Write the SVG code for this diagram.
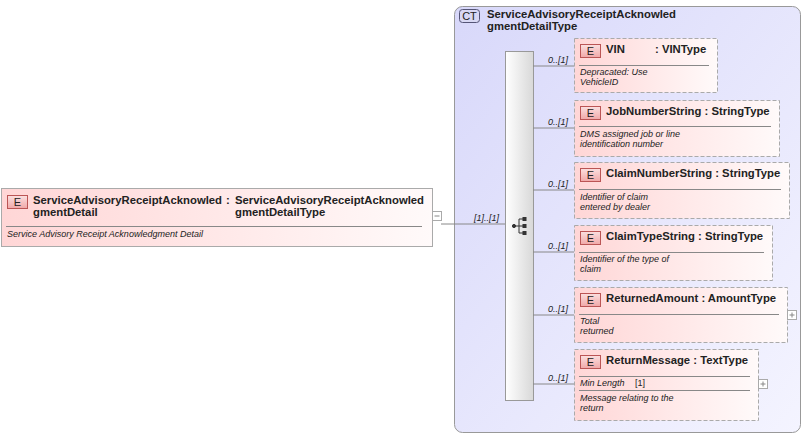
<svg xmlns="http://www.w3.org/2000/svg" width="804" height="435" viewBox="0 0 804 435">
<defs>
<linearGradient id="eg" x1="0" y1="0" x2="1" y2="0"><stop offset="0" stop-color="#ffd6d6"/><stop offset="1" stop-color="#fffafa"/></linearGradient>
<linearGradient id="cg" x1="0" y1="0" x2="1" y2="1"><stop offset="0" stop-color="#d8d8fa"/><stop offset="1" stop-color="#f4f4ff"/></linearGradient>
<linearGradient id="sg" x1="0" y1="0" x2="1" y2="0"><stop offset="0" stop-color="#ffffff"/><stop offset="1" stop-color="#d8d8d8"/></linearGradient>
<linearGradient id="bg" x1="0" y1="0" x2="0" y2="1"><stop offset="0" stop-color="#fbe0e0"/><stop offset="1" stop-color="#f0a8a8"/></linearGradient>
</defs>
<style>
text{font-family:"Liberation Sans",Arial,sans-serif;fill:#222}
.n{font-size:11.3px;font-weight:bold}
.d{font-size:9px;font-style:italic}
.m{font-size:9px;font-style:italic}
.b{font-size:11px;text-anchor:middle}
.el{fill:url(#eg);stroke:#aaa;stroke-dasharray:4,2}
.sep{stroke:#888;stroke-width:1}
.badge{fill:url(#bg);stroke:#b55}
.ln{stroke:#888;fill:none}
.pm{fill:#fff;stroke:#aaa}
</style>
<g id="ct">
<rect x="454.5" y="6.5" width="346" height="426" rx="8" fill="url(#cg)" stroke="#999"/>
<rect x="459.5" y="9.5" width="20" height="13" rx="3" fill="#d8d8f4" stroke="#557"/>
<text x="469.5" y="20" class="b">CT</text>
<text x="487" y="18" class="n">ServiceAdvisoryReceiptAcknowled</text>
<text x="487" y="30" class="n">gmentDetailType</text>
</g>
<g id="seq">
<rect x="505.5" y="51.5" width="28" height="349" fill="url(#sg)" stroke="#999"/>
<g stroke="#333" fill="#333">
<circle cx="514" cy="226" r="1.6"/><line x1="514" y1="226" x2="519" y2="226"/>
<line x1="519" y1="219" x2="519" y2="233"/><line x1="519" y1="219" x2="523" y2="219"/><line x1="519" y1="226" x2="523" y2="226"/><line x1="519" y1="233" x2="523" y2="233"/>
<rect x="523" y="217.5" width="3" height="3"/><rect x="523" y="224.5" width="3" height="3"/><rect x="523" y="231.5" width="3" height="3"/>
</g>
</g>
<g id="connectors">
<path class="ln" d="M441 224H505M533 66H574M533 128H574M533 190H574M533 252H574M533 315H574M533 384H574"/>
<text x="474" y="221" class="m">[1]..[1]</text>
<text x="548" y="63" class="m">0..[1]</text>
<text x="548" y="125" class="m">0..[1]</text>
<text x="548" y="187" class="m">0..[1]</text>
<text x="548" y="249" class="m">0..[1]</text>
<text x="548" y="312" class="m">0..[1]</text>
<text x="548" y="381" class="m">0..[1]</text>
</g>
<g id="root">
<rect x="1.5" y="188.5" width="431" height="58" fill="url(#eg)" stroke="#aaa"/>
<rect x="7.5" y="195.5" width="20" height="13" class="badge"/><text x="17.5" y="206" class="b">E</text>
<text x="33" y="204" class="n">ServiceAdvisoryReceiptAcknowled</text>
<text x="33" y="216" class="n">gmentDetail</text>
<text x="226" y="204" class="n">:</text>
<text x="235" y="204" class="n">ServiceAdvisoryReceiptAcknowled</text>
<text x="235" y="216" class="n">gmentDetailType</text>
<line x1="6" y1="226.5" x2="422" y2="226.5" class="sep"/>
<text x="7" y="237" class="d">Service Advisory Receipt Acknowledgment Detail</text>
<rect x="432.5" y="211.5" width="9" height="9" class="pm"/><line x1="434.5" y1="216" x2="439.5" y2="216" stroke="#888"/>
</g>
<g id="vin">
<rect x="574.5" y="38.5" width="143" height="54" class="el"/>
<rect x="580.5" y="44.5" width="20" height="13" class="badge"/><text x="590.5" y="55" class="b">E</text>
<text x="606" y="53" class="n">VIN</text><text x="655" y="53" class="n">: VINType</text>
<line x1="579" y1="65.5" x2="709" y2="65.5" class="sep"/>
<text x="580" y="75" class="d">Depracated: Use</text><text x="580" y="85" class="d">VehicleID</text>
</g>
<g id="job">
<rect x="574.5" y="100.5" width="205" height="56" class="el"/>
<rect x="580.5" y="106.5" width="20" height="13" class="badge"/><text x="590.5" y="117" class="b">E</text>
<text x="606" y="115" class="n">JobNumberString : StringType</text>
<line x1="579" y1="126.5" x2="771" y2="126.5" class="sep"/>
<text x="580" y="137" class="d">DMS assigned job or line</text><text x="580" y="147" class="d">identification number</text>
</g>
<g id="claimnum">
<rect x="574.5" y="162.5" width="215" height="56" class="el"/>
<rect x="580.5" y="168.5" width="20" height="13" class="badge"/><text x="590.5" y="179" class="b">E</text>
<text x="606" y="177" class="n">ClaimNumberString : StringType</text>
<line x1="579" y1="189.5" x2="781" y2="189.5" class="sep"/>
<text x="580" y="200" class="d">Identifier of claim</text><text x="580" y="210" class="d">entered by dealer</text>
</g>
<g id="claimtype">
<rect x="574.5" y="225.5" width="198" height="55" class="el"/>
<rect x="580.5" y="231.5" width="20" height="13" class="badge"/><text x="590.5" y="242" class="b">E</text>
<text x="606" y="240" class="n">ClaimTypeString : StringType</text>
<line x1="579" y1="252.5" x2="764" y2="252.5" class="sep"/>
<text x="580" y="262" class="d">Identifier of the type of</text><text x="580" y="272" class="d">claim</text>
</g>
<g id="amount">
<rect x="574.5" y="287.5" width="213" height="55" class="el"/>
<rect x="580.5" y="293.5" width="20" height="13" class="badge"/><text x="590.5" y="304" class="b">E</text>
<text x="606" y="302" class="n">ReturnedAmount : AmountType</text>
<line x1="579" y1="314.5" x2="779" y2="314.5" class="sep"/>
<text x="580" y="324" class="d">Total</text><text x="580" y="334" class="d">returned</text>
<rect x="787.5" y="310.5" width="9" height="9" class="pm"/><path d="M789.5 315H794.5M792 312.5V317.5" stroke="#888"/>
</g>
<g id="msg">
<rect x="574.5" y="349.5" width="184" height="71" class="el"/>
<rect x="580.5" y="355.5" width="20" height="13" class="badge"/><text x="590.5" y="366" class="b">E</text>
<text x="606" y="364" class="n">ReturnMessage : TextType</text>
<line x1="579" y1="376.5" x2="750" y2="376.5" class="sep"/>
<text x="580" y="386" class="d" fill="#000">Min Length</text><text x="635" y="386" font-size="9" fill="#555">[1]</text>
<line x1="579" y1="390.5" x2="750" y2="390.5" class="sep"/>
<text x="580" y="401" class="d">Message relating to the</text><text x="580" y="411" class="d">return</text>
<rect x="758.5" y="379.5" width="9" height="9" class="pm"/><path d="M760.5 384H765.5M763 381.5V386.5" stroke="#888"/>
</g>
</svg>
